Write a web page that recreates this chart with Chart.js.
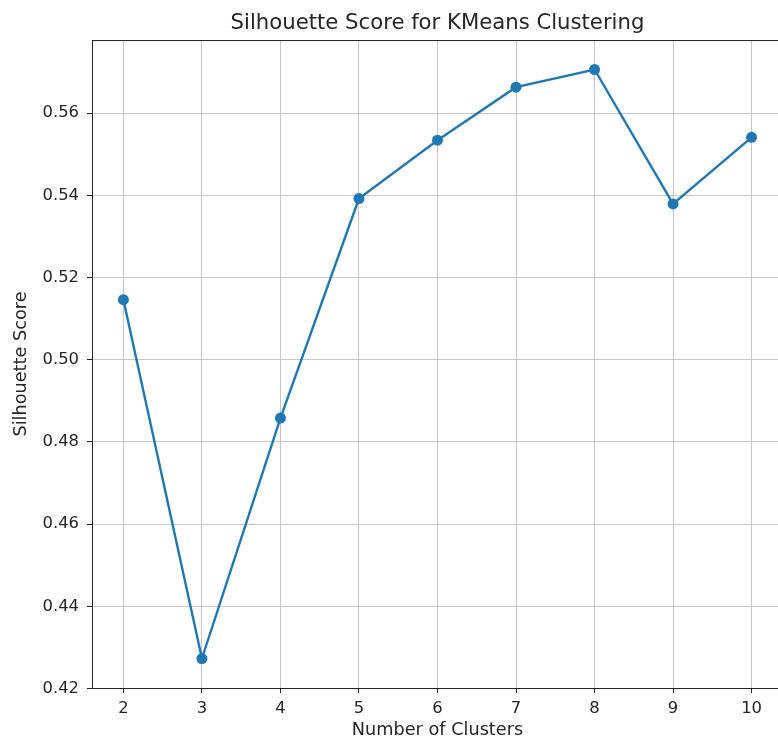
<!DOCTYPE html>
<html>
<head>
<meta charset="utf-8">
<title>Silhouette Score for KMeans Clustering</title>
<script src="https://cdn.jsdelivr.net/npm/chart.js@4.4.1/dist/chart.umd.min.js"></script>
<style>
  html, body { margin: 0; padding: 0; background: #fff; overflow: hidden; }
  canvas { display: block; }
</style>
</head>
<body>
<canvas id="silhouetteChart" width="800" height="743"></canvas>
<script>
// number of clusters tried and the silhouette score for each
const clusterCounts = [2, 3, 4, 5, 6, 7, 8, 9, 10];
const silhouetteScores = [0.5146, 0.4273, 0.4858, 0.5392, 0.5534, 0.5663, 0.5706, 0.5379, 0.5541];
const yTickValues = [0.42, 0.44, 0.46, 0.48, 0.50, 0.52, 0.54, 0.56];

const FONT = "'DejaVu Sans', sans-serif";
const TEXT = "#262626";
const LINE_BLUE = "#1f77b4";

// pad the axes 5% on each side, like matplotlib's default margins
const pad = (lo, hi) => [lo - (hi - lo) * 0.05, hi + (hi - lo) * 0.05];
const [xMin, xMax] = pad(Math.min(...clusterCounts), Math.max(...clusterCounts));
const [yMin, yMax] = pad(Math.min(...silhouetteScores), Math.max(...silhouetteScores));

// box around the plot area (top and right spines)
const frame = {
  id: "frame",
  afterDatasetsDraw(chart) {
    const { ctx, chartArea: a } = chart;
    ctx.save();
    ctx.strokeStyle = "#222";
    ctx.lineWidth = 1;
    ctx.strokeRect(a.left + 0.5, a.top + 0.5, a.right - a.left, a.bottom - a.top);
    ctx.restore();
  },
};

const ctx = document.getElementById("silhouetteChart").getContext("2d");
new Chart(ctx, {
  type: "line",
  data: {
    datasets: [
      {
        label: "Silhouette Score",
        data: clusterCounts.map((k, i) => ({ x: k, y: silhouetteScores[i] })),
        borderColor: LINE_BLUE,
        backgroundColor: LINE_BLUE,
        borderWidth: 2.4,
        pointRadius: 5.5,
        pointBorderWidth: 0,
        pointBackgroundColor: LINE_BLUE,
        tension: 0,
        clip: false,
      },
    ],
  },
  plugins: [frame],
  options: {
    responsive: false,
    animation: false,
    layout: { padding: { left: 0, right: 17, top: 0, bottom: 0 } },
    plugins: {
      legend: { display: false },
      tooltip: { enabled: false },
      title: {
        display: true,
        text: "Silhouette Score for KMeans Clustering",
        fullSize: false,
        color: TEXT,
        font: { family: FONT, size: 21.2, weight: "normal" },
        padding: { top: 10.5, bottom: 4.1 },
      },
    },
    scales: {
      x: {
        type: "linear",
        min: xMin,
        max: xMax,
        afterBuildTicks: (scale) => {
          scale.ticks = clusterCounts.map((v) => ({ value: v }));
        },
        afterFit: (scale) => {
          scale.height = 55;
        },
        grid: {
          color: "#c6c6c6",
          lineWidth: 1,
          tickLength: 5,
          tickColor: "#222",
        },
        border: { color: "#222", width: 1 },
        ticks: {
          color: TEXT,
          font: { family: FONT, size: 16.4 },
          padding: 6,
          maxRotation: 0,
          callback: (v) => String(v),
        },
        title: {
          display: true,
          text: "Number of Clusters",
          color: TEXT,
          font: { family: FONT, size: 17.7 },
          padding: { top: 0, bottom: 2 },
        },
      },
      y: {
        type: "linear",
        min: yMin,
        max: yMax,
        afterBuildTicks: (scale) => {
          scale.ticks = yTickValues.map((v) => ({ value: v }));
        },
        afterFit: (scale) => {
          scale.width = 92;
        },
        grid: {
          color: "#c6c6c6",
          lineWidth: 1,
          tickLength: 5,
          tickColor: "#222",
        },
        border: { color: "#222", width: 1 },
        ticks: {
          color: TEXT,
          font: { family: FONT, size: 16.4 },
          padding: 8,
          callback: (v) => v.toFixed(2),
        },
        title: {
          display: true,
          text: "Silhouette Score",
          color: TEXT,
          font: { family: FONT, size: 17.7 },
          padding: { top: 11, bottom: 0 },
        },
      },
    },
  },
});
</script>
</body>
</html>
